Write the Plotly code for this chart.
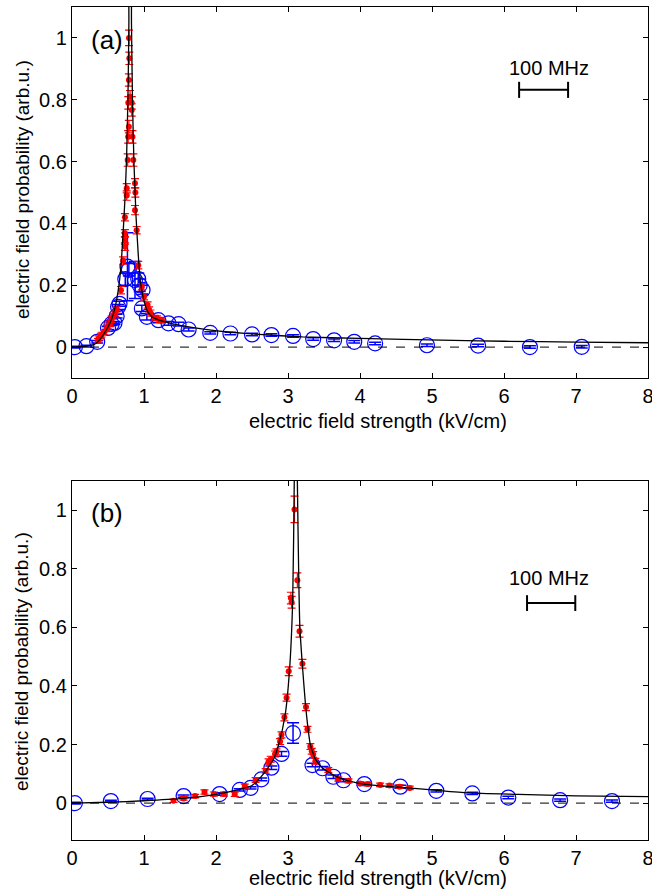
import plotly.graph_objects as go

# ---------------- Panel (a) data ----------------
curve_a_x = [0.0, 0.1, 0.2, 0.3, 0.35, 0.4, 0.45, 0.5, 0.55, 0.6, 0.64, 0.68, 0.71, 0.74, 0.76, 0.78, 0.79, 0.80,
             0.815, 0.826, 0.84, 0.86, 0.89, 0.92, 0.95, 0.99, 1.04, 1.1, 1.2, 1.4, 1.6, 1.85, 2.2, 2.6, 3.2,
             4.0, 4.6, 5.3, 6.0, 7.0, 8.0]
curve_a_y = [0.0, 0.001, 0.003, 0.008, 0.015, 0.028, 0.045, 0.065, 0.09, 0.13, 0.18, 0.26, 0.37, 0.5, 0.63, 0.85, 1.05, 1.4,
             1.4, 1.05, 0.8, 0.6, 0.42, 0.3, 0.21, 0.16, 0.12, 0.1, 0.088, 0.075, 0.066, 0.057, 0.048, 0.041, 0.033,
             0.028, 0.025, 0.022, 0.019, 0.016, 0.014]

red_a_x = [0.36, 0.37, 0.40, 0.41, 0.45, 0.48, 0.50, 0.53, 0.55, 0.57, 0.60, 0.62, 0.68, 0.71, 0.735, 0.735, 0.735,
           0.735, 0.76, 0.76, 0.773, 0.78, 0.782, 0.79, 0.806, 0.79, 0.796, 0.792, 0.83, 0.83, 0.84, 0.852,
           0.875, 0.88, 0.875, 0.898, 0.92, 0.97, 1.00, 1.05, 1.07, 1.09, 1.15, 1.18, 1.22, 1.25]
red_a_y = [0.020, 0.028, 0.035, 0.040, 0.048, 0.060, 0.068, 0.077, 0.090, 0.100, 0.110, 0.120, 0.184, 0.28, 0.325,
           0.345, 0.368, 0.42, 0.49, 0.514, 0.605, 0.68, 0.79, 0.864, 0.81, 0.713, 0.934, 1.0, 0.767, 0.79, 0.68, 0.605,
           0.53, 0.50, 0.443, 0.378, 0.265, 0.195, 0.163, 0.136, 0.12, 0.11, 0.095, 0.093, 0.088, 0.087]
red_a_err = [0.008, 0.008, 0.008, 0.008, 0.008, 0.01, 0.01, 0.01, 0.01, 0.01, 0.01, 0.01, 0.012, 0.012, 0.012,
             0.012, 0.012, 0.012, 0.015, 0.015, 0.02, 0.02, 0.02, 0.02, 0.02, 0.02, 0.02, 0.025, 0.02, 0.02, 0.02, 0.02,
             0.015, 0.015, 0.015, 0.012, 0.012, 0.01, 0.01, 0.01, 0.01, 0.01, 0.008, 0.008, 0.008, 0.008]

blue_a_x = [0.04, 0.20, 0.35, 0.50, 0.55, 0.59, 0.62, 0.64, 0.66, 0.74, 0.77, 0.79, 0.875, 0.92, 0.94, 0.98, 0.97,
            1.04, 1.2, 1.34, 1.48, 1.62, 1.92, 2.20, 2.50, 2.77, 3.07, 3.35, 3.64, 3.92, 4.21, 4.93, 5.64, 6.36, 7.08]
blue_a_y = [0.0, 0.003, 0.017, 0.062, 0.075, 0.078, 0.10, 0.13, 0.14, 0.22, 0.26, 0.25, 0.217, 0.22, 0.20, 0.185,
            0.125, 0.098, 0.087, 0.077, 0.074, 0.057, 0.046, 0.044, 0.041, 0.039, 0.036, 0.026, 0.022, 0.017, 0.012,
            0.006, 0.005, 0.0, 0.001]
blue_a_err = [0.003, 0.003, 0.004, 0.005, 0.005, 0.005, 0.006, 0.008, 0.008, 0.02, 0.11, 0.02, 0.06, 0.02, 0.02,
              0.015, 0.01, 0.01, 0.008, 0.006, 0.006, 0.005, 0.004, 0.004, 0.004, 0.004, 0.004, 0.004, 0.004, 0.004,
              0.004, 0.004, 0.004, 0.004, 0.004]

# ---------------- Panel (b) data ----------------
curve_b_x = [0.0, 0.5, 1.0, 1.5, 2.0, 2.3, 2.5, 2.66, 2.8, 2.87, 2.96, 3.02, 3.065, 3.087, 3.1, 3.115, 3.13, 3.15,
             3.165, 3.2, 3.245, 3.28, 3.31, 3.38, 3.48, 3.6, 3.78, 4.05, 4.5, 5.0, 5.5, 6.2, 7.0, 8.0]
curve_b_y = [0.0, 0.003, 0.008, 0.015, 0.03, 0.045, 0.06, 0.1, 0.15, 0.2, 0.3, 0.45, 0.69, 1.1, 1.5, 1.5, 1.1, 0.76,
             0.6, 0.47, 0.33, 0.25, 0.2, 0.15, 0.12, 0.1, 0.08, 0.065, 0.055, 0.045, 0.035, 0.03, 0.025, 0.022]

red_b_x = [1.41, 1.55, 1.71, 1.84, 1.97, 2.11, 2.26, 2.40, 2.55, 2.69, 2.73, 2.76, 2.82, 2.84, 2.89, 2.91, 2.95,
           2.98, 3.01, 3.05, 3.04, 3.09, 3.13, 3.16, 3.20, 3.25, 3.27, 3.31, 3.33, 3.35, 3.38, 3.56, 3.70, 3.84,
           4.00, 4.11, 4.28, 4.41, 4.55, 4.69]
red_b_y = [0.008, 0.016, 0.024, 0.038, 0.031, 0.031, 0.030, 0.058, 0.079, 0.11, 0.141, 0.15, 0.168, 0.175, 0.21,
           0.233, 0.293, 0.36, 0.45, 0.686, 0.70, 1.003, 0.761, 0.587, 0.476, 0.328, 0.252, 0.193, 0.177, 0.166,
           0.143, 0.113, 0.082, 0.076, 0.067, 0.065, 0.062, 0.060, 0.056, 0.052]
red_b_err = [0.006, 0.006, 0.006, 0.007, 0.007, 0.007, 0.007, 0.007, 0.008, 0.008, 0.01, 0.01, 0.01, 0.01, 0.01,
             0.01, 0.012, 0.012, 0.015, 0.02, 0.02, 0.045, 0.025, 0.02, 0.015, 0.012, 0.01, 0.01, 0.01, 0.01, 0.01,
             0.008, 0.007, 0.007, 0.006, 0.006, 0.006, 0.006, 0.006, 0.006]

blue_b_x = [0.04, 0.54, 1.05, 1.55, 2.05, 2.33, 2.48, 2.63, 2.77, 2.91, 3.07, 3.34, 3.48, 3.63, 3.77, 4.06, 4.56,
            5.06, 5.56, 6.06, 6.78, 7.50]
blue_b_y = [0.0, 0.007, 0.014, 0.024, 0.031, 0.045, 0.052, 0.081, 0.121, 0.168, 0.239, 0.13, 0.119, 0.09, 0.078,
            0.065, 0.056, 0.042, 0.033, 0.019, 0.010, 0.007]
blue_b_err = [0.003, 0.003, 0.003, 0.004, 0.004, 0.004, 0.004, 0.005, 0.006, 0.008, 0.035, 0.006, 0.006, 0.006,
              0.005, 0.005, 0.005, 0.004, 0.004, 0.004, 0.004, 0.004]

x_ticks = [0, 1, 2, 3, 4, 5, 6, 7, 8]
y_ticks = [0, 0.2, 0.4, 0.6, 0.8, 1]
y_tick_text = ["0", "0.2", "0.4", "0.6", "0.8", "1"]

FONT = "Liberation Sans, Arial, sans-serif"
BLUE = "#0000ff"
RED = "#ff0000"

fig = go.Figure()


def add_panel(xa, ya, cx, cy, rx, ry, re, bx, by, be):
    fig.add_trace(go.Scatter(
        x=bx, y=by, mode="markers", xaxis=xa, yaxis=ya,
        marker=dict(symbol="circle-open", size=15, color=BLUE, line=dict(width=1.2, color=BLUE)),
        error_y=dict(type="data", array=be, color=BLUE, thickness=1.5, width=6),
        showlegend=False, hoverinfo="x+y"))
    fig.add_trace(go.Scatter(
        x=rx, y=ry, mode="markers", xaxis=xa, yaxis=ya,
        marker=dict(symbol="circle", size=6, color=RED),
        error_y=dict(type="data", array=re, color=RED, thickness=1.2, width=4),
        showlegend=False, hoverinfo="x+y"))
    fig.add_trace(go.Scatter(
        x=cx, y=cy, mode="lines", xaxis=xa, yaxis=ya,
        line=dict(color="black", width=1.3, shape="spline", smoothing=0.5),
        showlegend=False, hoverinfo="skip"))


add_panel("x", "y", curve_a_x, curve_a_y, red_a_x, red_a_y, red_a_err, blue_a_x, blue_a_y, blue_a_err)
add_panel("x2", "y2", curve_b_x, curve_b_y, red_b_x, red_b_y, red_b_err, blue_b_x, blue_b_y, blue_b_err)

axis_common = dict(showline=True, linecolor="black", linewidth=1.2, mirror="ticks", ticks="inside",
                   ticklen=5, tickwidth=1, tickcolor="black", showgrid=False, zeroline=False,
                   automargin=False, tickfont=dict(family=FONT, size=20, color="black"))

fig.update_layout(
    width=652, height=891,
    margin=dict(l=72, r=4, t=7, b=51, autoexpand=False),
    plot_bgcolor="white", paper_bgcolor="white",
    xaxis=dict(domain=[0, 1], anchor="y", range=[0, 8], tickvals=x_ticks, ticklabeloverflow="allow",
               **axis_common),
    yaxis=dict(domain=[0.5546, 1], anchor="x", range=[-0.1, 1.1], tickvals=y_ticks, ticktext=y_tick_text,
               **axis_common),
    xaxis2=dict(domain=[0, 1], anchor="y2", range=[0, 8], tickvals=x_ticks, ticklabeloverflow="allow",
                **axis_common),
    yaxis2=dict(domain=[0, 0.431], anchor="x2", range=[-0.126, 1.1], tickvals=y_ticks, ticktext=y_tick_text,
                **axis_common),
)

shapes = []
for xr, yr in (("x", "y"), ("x2", "y2")):
    shapes.append(dict(type="line", xref=xr, yref=yr, x0=0, x1=8, y0=0, y1=0,
                       line=dict(color="black", width=1, dash="dash")))

# 100 MHz scale bars
bar_specs = [("x", "y", 6.21, 6.89, 0.832, 0.026), ("x2", "y2", 6.32, 6.99, 0.683, 0.027)]
for xr, yr, bx0, bx1, byy, cap in bar_specs:
    shapes.append(dict(type="line", xref=xr, yref=yr, x0=bx0, x1=bx1, y0=byy, y1=byy,
                       line=dict(color="black", width=2)))
    for xx in (bx0, bx1):
        shapes.append(dict(type="line", xref=xr, yref=yr, x0=xx, x1=xx, y0=byy - cap, y1=byy + cap,
                           line=dict(color="black", width=2)))
fig.update_layout(shapes=shapes)

ann = []
ann.append(dict(text="(a)", xref="x", yref="y", x=0.486, y=0.994, showarrow=False,
                font=dict(family=FONT, size=26, color="black")))
ann.append(dict(text="(b)", xref="x2", yref="y2", x=0.486, y=0.99, showarrow=False,
                font=dict(family=FONT, size=26, color="black")))
ann.append(dict(text="100 MHz", xref="x", yref="y", x=6.625, y=0.903, showarrow=False,
                font=dict(family=FONT, size=20, color="black")))
ann.append(dict(text="100 MHz", xref="x2", yref="y2", x=6.625, y=0.769, showarrow=False,
                font=dict(family=FONT, size=20, color="black")))
ytitle = "electric field probability (arb.u.)"
xtitle = "electric field strength (kV/cm)"
for yp in (0.7803, 0.2137):
    ann.append(dict(text=ytitle, xref="paper", yref="paper", x=-0.0868, y=yp, textangle=-90,
                    showarrow=False, xanchor="center", yanchor="middle",
                    font=dict(family=FONT, size=19, color="black")))
for yp in (0.503, -0.046):
    ann.append(dict(text=xtitle, xref="paper", yref="paper", x=0.53125, y=yp,
                    showarrow=False, xanchor="center", yanchor="middle",
                    font=dict(family=FONT, size=20, color="black")))
fig.update_layout(annotations=ann)

fig.write_html("out.html", config={"displayModeBar": False},
               post_script="document.body.style.margin='0px';")
